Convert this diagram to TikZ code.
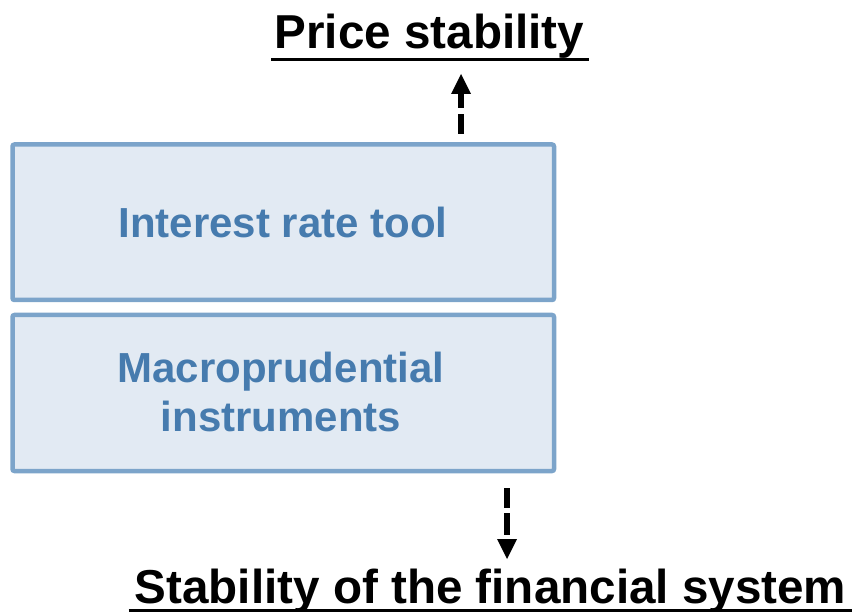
\documentclass[tikz,border=0pt]{standalone}
\usepackage{fontspec}
\setmainfont{Liberation Sans}
\usetikzlibrary{arrows.meta}
\definecolor{boxline}{RGB}{124,164,202}
\definecolor{boxfill}{RGB}{226,234,243}
\definecolor{boxtext}{RGB}{70,123,174}
\tikzset{
  toolbox/.style={draw=boxline, fill=boxfill, line width=4.5pt, rounded corners=2pt},
  tooltext/.style={text=boxtext, font=\bfseries\fontsize{42}{49}\selectfont, inner sep=0pt, align=center},
  goaltext/.style={text=black, font=\bfseries\fontsize{47.6}{52}\selectfont, inner sep=0pt},
  goalline/.style={line width=3pt},
  effect/.style={line width=6.5pt, -{Triangle[width=20pt,length=20pt,line width=0pt]}}
}
\begin{document}
\begin{tikzpicture}[x=1pt,y=-1pt]
\useasboundingbox (0,0) rectangle (852,612);

% the two instrument boxes
\draw[toolbox] (12.5,144.5) rectangle (554,300);
\draw[toolbox] (12.5,315) rectangle (554,471);
\node[tooltext, anchor=base] (rate) at (283,238) {Interest rate tool};
\node[tooltext, anchor=center] (macro) at (281,392.2) {Macroprudential\\instruments};

% policy goals
\node[goaltext, anchor=base west] (price) at (274.5,48.3) {Price stability};
\draw[goalline] ([xshift=-3.5pt,yshift=-11.7pt]price.base west) -- ([xshift=4.5pt,yshift=-11.7pt]price.base east);
\node[goaltext, anchor=base west] (fin) at (134.5,603) {Stability of the financial system};
\coordinate (finEnd) at (852,610);
\draw[goalline] ([xshift=-6pt,yshift=-7pt]fin.base west) -- (finEnd);

% dashed effect arrows
\coordinate (upS) at (461,134);
\coordinate (upE) at (461,74);
\draw[effect, dash pattern=on 20pt off 6pt] (upS) -- (upE);
\coordinate (dnS) at (507,488);
\coordinate (dnE) at (507,559);
\draw[effect, dash pattern=on 20pt off 5pt on 22pt off 4pt] (dnS) -- (dnE);
\end{tikzpicture}
\end{document}
